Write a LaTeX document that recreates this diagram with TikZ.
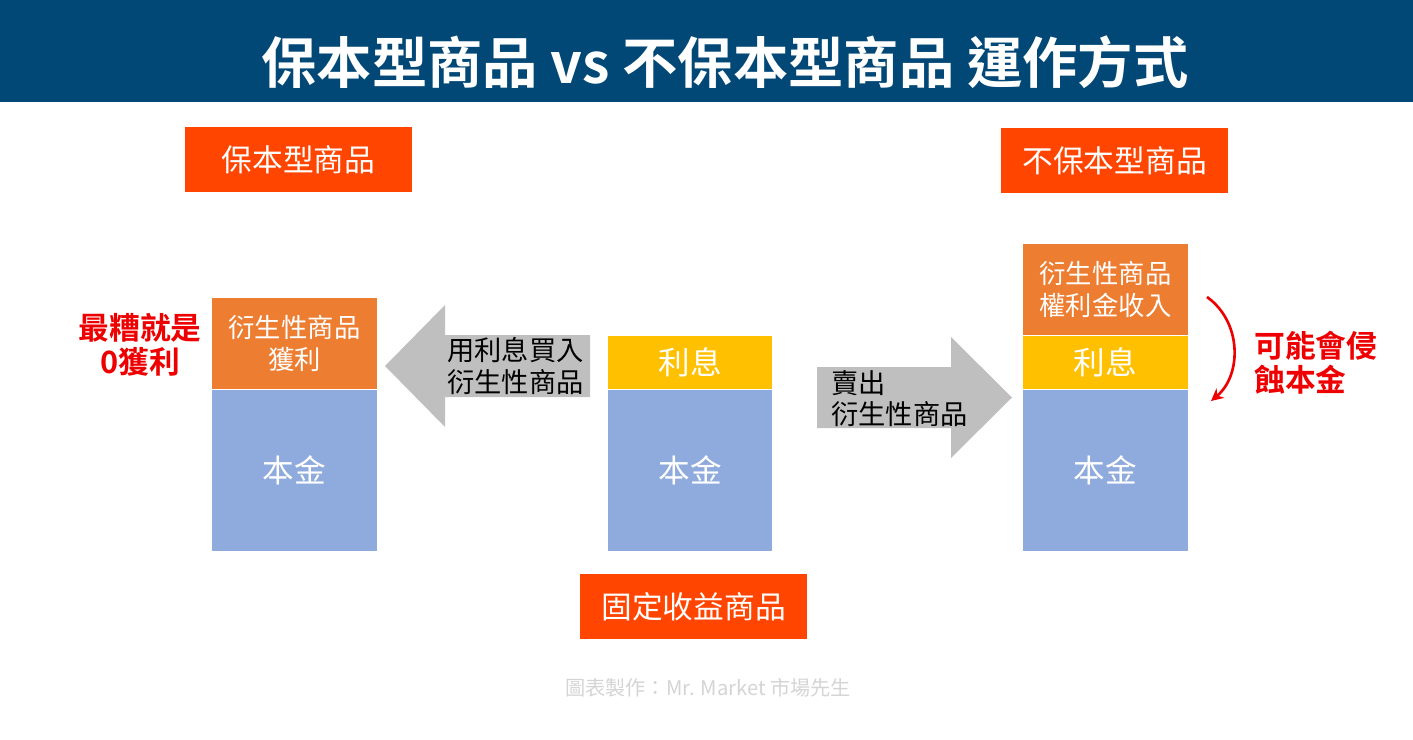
\documentclass[tikz,border=0pt]{standalone}
\usepackage{fontspec}
\setmainfont{Noto Sans CJK TC}[BoldFont={* Bold}]
\usetikzlibrary{positioning,arrows.meta}
\definecolor{titleblue}{HTML}{024877}
\definecolor{tagred}{HTML}{FF4500}
\definecolor{capblue}{HTML}{8FAADC}
\definecolor{derivorange}{HTML}{ED7D31}
\definecolor{intyellow}{HTML}{FFC000}
\definecolor{arrowgray}{HTML}{BFBFBF}
\definecolor{riskred}{HTML}{EE0000}
\definecolor{footgray}{HTML}{D4D4D4}
\begin{document}
\begin{tikzpicture}[x=0.02cm, y=-0.02cm,
  tagbox/.style={rectangle, fill=tagred, text=white, inner sep=0pt, minimum width=4.54cm, minimum height=1.32cm, font=\fontsize{17.5}{21}\selectfont},
  capbox/.style={rectangle, fill=capblue, text=white, inner sep=0pt, minimum width=3.3cm, minimum height=3.22cm, font=\fontsize{18}{22}\selectfont},
  derivbox/.style={rectangle, fill=derivorange, text=white, inner sep=0pt, minimum width=3.3cm, minimum height=1.83cm, align=center, font=\fontsize{15}{18.2}\selectfont},
  intbox/.style={rectangle, fill=intyellow, text=white, inner sep=0pt, minimum width=3.3cm, minimum height=1.07cm, font=\fontsize{18}{22}\selectfont},
  arrowtext/.style={text=black, inner sep=0pt, align=left, font=\fontsize{15.5}{17.8}\selectfont},
  risktext/.style={text=riskred, inner sep=0pt, font=\fontsize{17.5}{19.5}\selectfont\bfseries}]
\useasboundingbox (0,0) rectangle (1413,740);
\fill[titleblue] (0,0) rectangle (1413,102);
\node[text=white, font=\fontsize{31.5}{38}\selectfont\bfseries] (title) at (725,62) {保本型商品 vs 不保本型商品 運作方式};

% tags
\node[tagbox] (protag) at (298.5,159.5) {保本型商品};
\node[tagbox] (nonprotag) at (1114.5,160.5) {不保本型商品};
\node[tagbox] (fixtag) at (693.5,606.5) {固定收益商品};

% stacks
\node[capbox] (lcap) at (294.5,470.5) {本金};
\node[derivbox, above=0pt of lcap] (lgain) {衍生性商品\\獲利};
\node[capbox] (mcap) at (690,470.5) {本金};
\node[intbox, above=0pt of mcap] (mint) {利息};
\node[capbox] (rcap) at (1105.5,470.5) {本金};
\node[intbox, above=0pt of rcap] (rint) {利息};
\node[derivbox, above=0pt of rint] (rprem) {衍生性商品\\權利金收入};

% gray arrows
\fill[arrowgray] (590,335) -- (445,335) -- (445,305) -- (385,366) -- (445,427) -- (445,397) -- (590,397) -- cycle;
\node[arrowtext, anchor=west] (buytext) at (447,366) {用利息買入\\衍生性商品};
\fill[arrowgray] (817,367) -- (951,367) -- (951,337) -- (1012,397.5) -- (951,458) -- (951,428) -- (817,428) -- cycle;
\node[arrowtext, anchor=west] (selltext) at (831,399) {賣出\\衍生性商品};

% red notes
\node[risktext, align=center] (worst) at (140,345) {最糟就是\\0獲利};
\node[risktext, align=left, anchor=west] (erode) at (1254,363) {可能會侵\\蝕本金};
\coordinate (rtop) at (1207,297);
\coordinate (rbot) at (1211,401);
\draw[riskred, line width=1.5pt, -{Stealth[length=7pt,width=7pt]}] (rtop) .. controls (1242,322) and (1242,375) .. (rbot);

\node[text=footgray, font=\fontsize{11.5}{13}\selectfont] (credit) at (708,688) {圖表製作：Mr. Market 市場先生};
\end{tikzpicture}
\end{document}
